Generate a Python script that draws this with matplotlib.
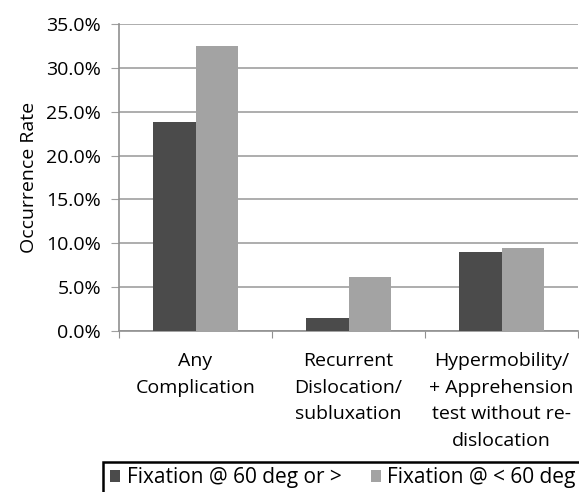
import matplotlib.pyplot as plt
import numpy as np
from matplotlib.ticker import FuncFormatter
from matplotlib.patches import Rectangle

# chart data
categories = ["Any\nComplication", "Recurrent\nDislocation/\nsubluxation",
              "Hypermobility/\n+ Apprehension\ntest without re-\ndislocation"]
series_names = ["Fixation @ 60 deg or >", "Fixation @ < 60 deg"]
fix_60_or_more = [0.238, 0.015, 0.090]
fix_under_60 = [0.325, 0.061, 0.095]
colors = ["#4b4b4b", "#a3a3a3"]

plt.rcParams['font.family'] = ['Open Sans', 'DejaVu Sans']

fig = plt.figure(figsize=(5.79, 4.92), dpi=100)
ax = fig.add_axes([119 / 579, 1 - 331 / 492, (578 - 119) / 579, (331 - 24) / 492])

x = np.arange(len(categories))
w = 0.28
ax.bar(x - w / 2, fix_60_or_more, w, color=colors[0], label=series_names[0], zorder=3)
ax.bar(x + w / 2, fix_under_60, w, color=colors[1], label=series_names[1], zorder=3)

ax.set_xlim(-0.5, len(categories) - 0.5)
ax.set_ylim(0, 0.35)
ax.set_yticks(np.arange(0, 0.351, 0.05))
ax.yaxis.set_major_formatter(FuncFormatter(lambda v, p: f"{v * 100:.1f}%"))
ax.grid(axis='y', color='#a0a0a0', linewidth=1.2, zorder=0)

# category boundaries as tick marks, labels in the middle
ax.set_xticks(np.arange(-0.5, len(categories), 1.0))
ax.set_xticklabels([])
ax.set_xticks(x, minor=True)
ax.set_xticklabels(categories, minor=True, fontsize=14, linespacing=1.62)
ax.tick_params(axis='x', which='major', length=5, color='#909090', direction='out')
ax.tick_params(axis='x', which='minor', length=0, pad=15)
ax.tick_params(axis='y', length=6, color='#a0a0a0', labelsize=14, pad=7)

for s in ['top', 'right']:
    ax.spines[s].set_visible(False)
for s in ['left', 'bottom']:
    ax.spines[s].set_color('#909090')
    ax.spines[s].set_linewidth(1.2)

ax.set_ylabel("Occurrence Rate", fontsize=14, labelpad=6)

# legend box runs off the right edge, as in the original
fig.patches.append(Rectangle((103 / 579, -0.01), 1.0, (492 - 462) / 492 + 0.01,
                             transform=fig.transFigure, fill=False,
                             edgecolor='black', linewidth=1.8))
leg = fig.legend(loc='center left', bbox_to_anchor=(110 / 579, 1 - 478 / 492),
                 ncol=2, fontsize=15, frameon=False,
                 handlelength=0.5, handleheight=0.5, handletextpad=0.3,
                 borderaxespad=0, borderpad=0, columnspacing=1.4)

fig.savefig("out.png", dpi=100)
